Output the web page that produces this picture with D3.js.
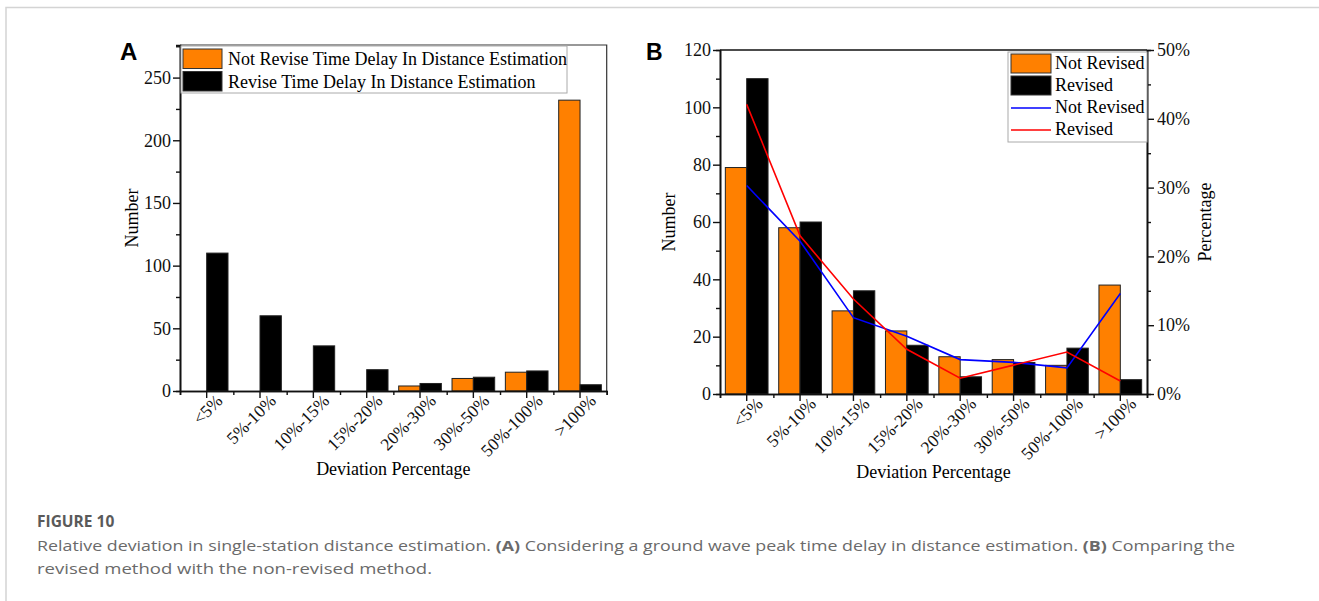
<!DOCTYPE html>
<html lang="en">
    <head>
        <meta charset="utf-8">
        <title>D3</title>
        <script type="text/javascript" src="https://cdnjs.cloudflare.com/ajax/libs/d3/7.8.5/d3.min.js"></script>
        <style type="text/css">
            body { margin: 0; background: #fff; }
        </style>
    </head>
    <body>
        <script type="text/javascript">
            var w = 1319;
            var h = 601;

            // data
            var categories = ["<5%", "5%-10%", "10%-15%", "15%-20%", "20%-30%", "30%-50%", "50%-100%", ">100%"];
            var notRevisedA = [0, 0, 0, 0, 4, 10, 15, 232];
            var revisedA = [110, 60, 36, 17, 6, 11, 16, 5];
            var notRevisedB = [79, 58, 29, 22, 13, 12, 10, 38];
            var revisedB = [110, 60, 36, 17, 6, 11, 16, 5];
            var notRevisedPct = [30.3, 22.2, 11.1, 8.4, 5.0, 4.6, 3.8, 14.6];
            var revisedPct = [42.1, 23.0, 13.8, 6.5, 2.3, 4.2, 6.1, 1.9];
            var yTicksA = [0, 50, 100, 150, 200, 250];
            var yTicksB = [0, 20, 40, 60, 80, 100, 120];
            var pctTicks = [0, 10, 20, 30, 40, 50];

            var orange = "#ff8000";
            var fs = 18;
            var serif = "Liberation Serif";

            var svg = d3.select("body")
                        .append("svg")
                        .attr("width", w)
                        .attr("height", h)
                        .attr("font-family", serif);

            // page border
            svg.append("path")
               .attr("d", "M6," + h + "V7.5H" + w)
               .attr("fill", "none")
               .attr("stroke", "#d4d4d4")
               .attr("stroke-width", 1.5);

            function xAxes(g, x, bottom) {
                var idx = d3.scaleLinear().domain([0, categories.length]).range(x.range());
                g.append("g")
                 .attr("transform", "translate(0," + bottom + ")")
                 .call(d3.axisBottom(idx).tickValues(d3.range(categories.length + 1)).tickSize(4).tickFormat(""));
                var ax = g.append("g")
                 .attr("transform", "translate(0," + bottom + ")")
                 .call(d3.axisBottom(x).tickSize(7).tickSizeOuter(0));
                ax.selectAll(".tick text")
                  .attr("font-size", 17.5)
                  .attr("font-family", serif)
                  .attr("text-anchor", "end")
                  .attr("dy", 0)
                  .attr("y", 0)
                  .attr("transform", "translate(17,11) rotate(-45)");
            }

            function styleAxis(sel) {
                sel.selectAll("path.domain").attr("stroke", "#111").attr("stroke-width", 1.6);
                sel.selectAll(".tick line").attr("stroke", "#111").attr("stroke-width", 1.4);
                sel.selectAll(".tick text").attr("fill", "#111");
            }

            // ---------------- panel A ----------------
            var A = { left: 180, right: 606.7, top: 45, bottom: 391 };
            var gA = svg.append("g");

            var xA = d3.scaleBand().domain(categories).range([A.left, A.right]).paddingInner(0.2).paddingOuter(0.1);
            var x1A = d3.scaleBand().domain([0, 1]).range([0, xA.bandwidth()]);
            var yA = d3.scaleLinear().domain([0, 276]).range([A.bottom, A.top]);

            // frame
            gA.append("path")
              .attr("d", "M" + A.left + "," + A.top + "H" + A.right + "V" + A.bottom)
              .attr("fill", "none")
              .attr("stroke", "#333")
              .attr("stroke-width", 1.2);

            [notRevisedA, revisedA].forEach(function (vals, s) {
                gA.selectAll(null)
                  .data(vals)
                  .enter()
                  .append("rect")
                  .attr("x", function (d, i) { return xA(categories[i]) + x1A(s); })
                  .attr("y", function (d) { return yA(d); })
                  .attr("width", x1A.bandwidth())
                  .attr("height", function (d) { return A.bottom - yA(d); })
                  .attr("fill", s == 0 ? orange : "#000")
                  .attr("stroke", function (d) { return d > 0 ? "#222" : "none"; })
                  .attr("stroke-width", 1);
            });

            var yAxA = gA.append("g").attr("transform", "translate(" + A.left + ",0)");
            yAxA.call(d3.axisLeft(yA).tickValues(d3.range(25, 276, 50)).tickSize(4).tickFormat(""));
            yAxA.append("g").call(d3.axisLeft(yA).tickValues(yTicksA).tickSize(7).tickSizeOuter(0));
            yAxA.selectAll(".tick text").attr("font-size", fs).attr("font-family", serif).attr("x", -9);
            xAxes(gA, xA, A.bottom);
            styleAxis(gA);

            gA.append("text")
              .attr("x", (A.left + A.right) / 2)
              .attr("y", 475)
              .attr("text-anchor", "middle")
              .attr("font-size", fs)
              .text("Deviation Percentage");
            gA.append("text")
              .attr("transform", "translate(138," + (A.top + A.bottom) / 2 + ") rotate(-90)")
              .attr("text-anchor", "middle")
              .attr("font-size", fs)
              .text("Number");

            // legend A
            var legA = gA.append("g");
            legA.append("rect")
                .attr("x", 181).attr("y", 46).attr("width", 386).attr("height", 47)
                .attr("fill", "#fff").attr("stroke", "#aaa").attr("stroke-width", 1);
            var legAItems = ["Not Revise Time Delay In Distance Estimation", "Revise Time Delay In Distance Estimation"];
            legAItems.forEach(function (t, i) {
                legA.append("rect")
                    .attr("x", 183).attr("y", 49 + i * 22.5).attr("width", 39).attr("height", 19.5)
                    .attr("fill", i == 0 ? orange : "#000").attr("stroke", "#333").attr("stroke-width", 1);
                legA.append("text")
                    .attr("x", 228).attr("y", 65 + i * 22.5)
                    .attr("font-size", fs)
                    .text(t);
            });

            svg.append("text")
               .attr("x", 120).attr("y", 60)
               .attr("font-family", "Liberation Sans")
               .attr("font-weight", "bold")
               .attr("font-size", 24)
               .text("A");

            // ---------------- panel B ----------------
            var B = { left: 720, right: 1147, top: 50, bottom: 394 };
            var gB = svg.append("g");

            var xB = d3.scaleBand().domain(categories).range([B.left, B.right]).paddingInner(0.2).paddingOuter(0.1);
            var x1B = d3.scaleBand().domain([0, 1]).range([0, xB.bandwidth()]);
            var yB = d3.scaleLinear().domain([0, 120]).range([B.bottom, B.top]);
            var yP = d3.scaleLinear().domain([0, 50]).range([B.bottom, B.top]);

            gB.append("path")
              .attr("d", "M" + B.left + "," + B.top + "H" + B.right)
              .attr("fill", "none")
              .attr("stroke", "#111")
              .attr("stroke-width", 1.6);

            [notRevisedB, revisedB].forEach(function (vals, s) {
                gB.selectAll(null)
                  .data(vals)
                  .enter()
                  .append("rect")
                  .attr("x", function (d, i) { return xB(categories[i]) + x1B(s); })
                  .attr("y", function (d) { return yB(d); })
                  .attr("width", x1B.bandwidth())
                  .attr("height", function (d) { return B.bottom - yB(d); })
                  .attr("fill", s == 0 ? orange : "#000")
                  .attr("stroke", "#222")
                  .attr("stroke-width", 1);
            });

            var line = d3.line()
                         .x(function (d, i) { return xB(categories[i]) + xB.bandwidth() / 2; })
                         .y(function (d) { return yP(d); });
            gB.append("path").datum(notRevisedPct).attr("d", line)
              .attr("fill", "none").attr("stroke", "#0000ff").attr("stroke-width", 1.6);
            gB.append("path").datum(revisedPct).attr("d", line)
              .attr("fill", "none").attr("stroke", "#ff0000").attr("stroke-width", 1.6);

            var yAxB = gB.append("g").attr("transform", "translate(" + B.left + ",0)");
            yAxB.call(d3.axisLeft(yB).tickValues(d3.range(10, 120, 20)).tickSize(4).tickFormat(""));
            yAxB.append("g").call(d3.axisLeft(yB).tickValues(yTicksB).tickSize(7).tickSizeOuter(0));
            yAxB.selectAll(".tick text").attr("font-size", fs).attr("font-family", serif).attr("x", -9);

            var yAxP = gB.append("g").attr("transform", "translate(" + B.right + ",0)");
            yAxP.call(d3.axisRight(yP).tickValues(d3.range(5, 50, 10)).tickSize(4).tickFormat(""));
            yAxP.append("g").call(d3.axisRight(yP).tickValues(pctTicks).tickSize(7).tickSizeOuter(0)
                .tickFormat(function (d) { return d + "%"; }));
            yAxP.selectAll(".tick text").attr("font-size", fs).attr("font-family", serif).attr("x", 10);

            xAxes(gB, xB, B.bottom);
            styleAxis(gB);

            gB.append("text")
              .attr("x", (B.left + B.right) / 2)
              .attr("y", 478)
              .attr("text-anchor", "middle")
              .attr("font-size", fs)
              .text("Deviation Percentage");
            gB.append("text")
              .attr("transform", "translate(675," + (B.top + B.bottom) / 2 + ") rotate(-90)")
              .attr("text-anchor", "middle")
              .attr("font-size", fs)
              .text("Number");
            gB.append("text")
              .attr("transform", "translate(1211," + (B.top + B.bottom) / 2 + ") rotate(-90)")
              .attr("text-anchor", "middle")
              .attr("font-size", fs)
              .text("Percentage");

            // legend B
            var legB = gB.append("g");
            legB.append("rect")
                .attr("x", 1008).attr("y", 52).attr("width", 139).attr("height", 90)
                .attr("fill", "#fff").attr("stroke", "#aaa").attr("stroke-width", 1);
            var legBItems = ["Not Revised", "Revised", "Not Revised", "Revised"];
            legBItems.forEach(function (t, i) {
                if (i < 2) {
                    legB.append("rect")
                        .attr("x", 1011).attr("y", 54 + i * 22).attr("width", 40).attr("height", 19)
                        .attr("fill", i == 0 ? orange : "#000").attr("stroke", "#333").attr("stroke-width", 1);
                } else {
                    legB.append("line")
                        .attr("x1", 1011).attr("x2", 1051)
                        .attr("y1", 64 + i * 22).attr("y2", 64 + i * 22)
                        .attr("stroke", i == 2 ? "#0000ff" : "#ff0000").attr("stroke-width", 1.6);
                }
                legB.append("text")
                    .attr("x", 1055).attr("y", 69 + i * 22)
                    .attr("font-size", fs)
                    .text(t);
            });

            svg.append("text")
               .attr("x", 646).attr("y", 59.5)
               .attr("font-family", "Liberation Sans")
               .attr("font-weight", "bold")
               .attr("font-size", 23)
               .text("B");

            // ---------------- caption ----------------
            var sans = "Open Sans";
            var cap = svg.append("g").attr("fill", "#6a6a6a").attr("font-family", sans);
            cap.append("text")
               .attr("x", 37).attr("y", 527)
               .attr("font-weight", "bold")
               .attr("font-size", 15.5)
               .attr("fill", "#5a5a5a")
               .text("FIGURE 10");
            var l1 = cap.append("text")
               .attr("x", 37).attr("y", 551)
               .attr("font-size", 15)
               .attr("textLength", 1198)
               .attr("lengthAdjust", "spacingAndGlyphs");
            l1.append("tspan").text("Relative deviation in single-station distance estimation. ");
            l1.append("tspan").attr("font-weight", "bold").text("(A)");
            l1.append("tspan").text(" Considering a ground wave peak time delay in distance estimation. ");
            l1.append("tspan").attr("font-weight", "bold").text("(B)");
            l1.append("tspan").text(" Comparing the");
            cap.append("text")
               .attr("x", 37).attr("y", 574)
               .attr("font-size", 15)
               .attr("textLength", 395)
               .attr("lengthAdjust", "spacingAndGlyphs")
               .text("revised method with the non-revised method.");
        </script>
    </body>
</html>
